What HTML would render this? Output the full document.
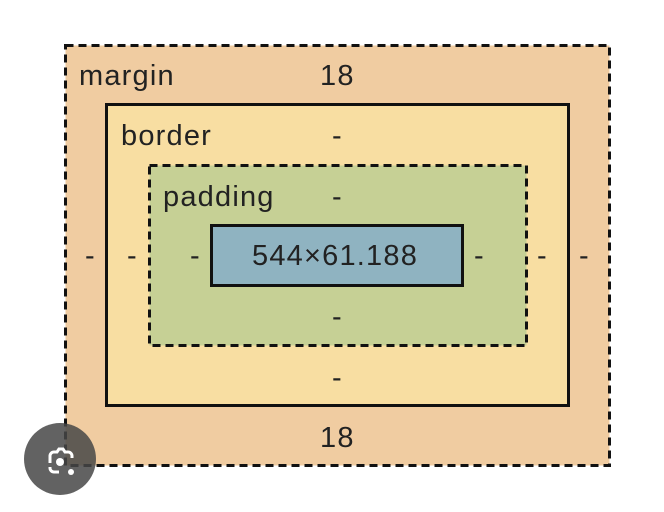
<!DOCTYPE html>
<html><head><style>
body{margin:0;width:664px;height:512px;background:#fff;position:relative;overflow:hidden;font-family:"Liberation Sans",sans-serif;color:#222}
.b{position:absolute;box-sizing:border-box}
.t{position:absolute;font-size:29px;line-height:1;white-space:nowrap;letter-spacing:1.2px}
</style></head><body>
<svg class="b" style="left:0;top:0" width="664" height="512">
<rect x="65.5" y="45.5" width="544" height="420" fill="#f0cca1" stroke="#111" stroke-width="3" stroke-dasharray="8,5"/>
<rect x="106.5" y="104.5" width="462" height="301" fill="#f8dea2" stroke="#111" stroke-width="3"/>
<rect x="149.5" y="165.5" width="377" height="180" fill="#c6d095" stroke="#111" stroke-width="3" stroke-dasharray="8,5"/>
<rect x="211.5" y="225.5" width="251" height="60" fill="#8fb3c1" stroke="#111" stroke-width="3"/>
</svg>
<div class="t" style="left:79px;top:62px">margin</div>
<div class="t" style="left:320px;top:62px">18</div>
<div class="t" style="left:121px;top:122px">border</div>
<div class="t" style="left:332px;top:122px">-</div>
<div class="t" style="left:163px;top:183px">padding</div>
<div class="t" style="left:332px;top:183px">-</div>
<div class="t" style="left:252px;top:242px">544×61.188</div>
<div class="t" style="left:85px;top:242px">-</div>
<div class="t" style="left:127px;top:242px">-</div>
<div class="t" style="left:190px;top:242px">-</div>
<div class="t" style="left:474px;top:242px">-</div>
<div class="t" style="left:537px;top:242px">-</div>
<div class="t" style="left:579px;top:242px">-</div>
<div class="t" style="left:332px;top:303px">-</div>
<div class="t" style="left:332px;top:364px">-</div>
<div class="t" style="left:320px;top:424px">18</div>
<div class="b" style="left:24px;top:423px;width:72px;height:72px;border-radius:50%;background:rgba(70,70,70,0.85)"></div>
<svg class="b" style="left:24px;top:423px" width="72" height="72" viewBox="0 0 72 72">
<path d="M26 40 V33 a4 4 0 0 1 4-4 h3 l2-3 h4 l2 3 h3 a4 4 0 0 1 4 4 v2 M26 44 v1 a4 4 0 0 0 4 4 h5" fill="none" stroke="#fff" stroke-width="3"/>
<circle cx="36" cy="39" r="4" fill="#fff"/><circle cx="47" cy="49" r="3" fill="#fff"/>
</svg>
</body></html>
